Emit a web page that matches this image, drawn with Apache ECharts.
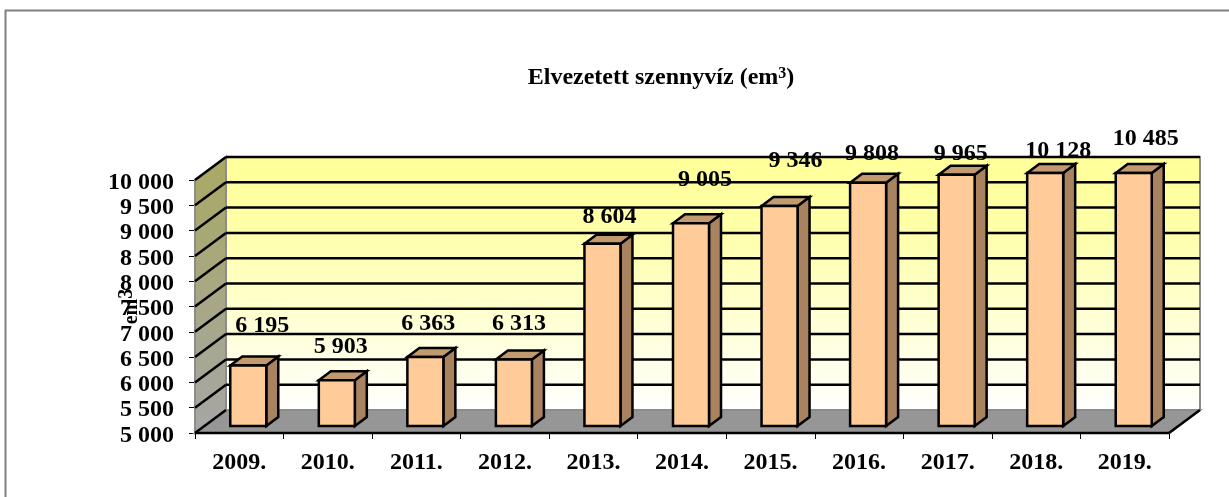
<!DOCTYPE html>
<html>
<head>
<meta charset="utf-8">
<style>
  html, body { margin: 0; padding: 0; background: #fff; }
  #chart { width: 1229px; height: 497px; }
</style>
</head>
<body>
<div id="chart"></div>
<script src="https://cdn.jsdelivr.net/npm/echarts@6/dist/echarts.min.js"></script>
<script>
const years = ["2009.", "2010.", "2011.", "2012.", "2013.", "2014.", "2015.", "2016.", "2017.", "2018.", "2019."];
const wastewater = [6195, 5903, 6363, 6313, 8604, 9005, 9346, 9808, 9965, 10128, 10485];
const yTicks = [5000, 5500, 6000, 6500, 7000, 7500, 8000, 8500, 9000, 9500, 10000];

const yMin = 5000;
const yMax = 10000;
const FONT = '"Liberation Serif", "Times New Roman", serif';

// fake 3D: how far the back wall and the bars are pushed from the front plane
const WALL_DX = 31, WALL_DY = -23;
const BAR_DX = 9, BAR_DY = -7, BAR_W = 36;
const BAR_DEPTH_X = 12, BAR_DEPTH_Y = -9;
// the data labels were moved by hand in the original: [right, up] from the bar front top
const labelNudge = [[14, 40], [4, 34], [3, 33], [5, 36], [7, 27], [14, 44], [16, 45], [4, 29], [4, 21], [13, 22], [12, 34]];

const fmt = (v) => String(v).replace(/\B(?=(\d{3})+$)/g, " ");
const chart = echarts.init(document.getElementById("chart"));

const poly = (points, fill) => ({
  type: "polygon",
  shape: { points },
  style: { fill, stroke: "#000", lineWidth: 2.5, lineJoin: "miter" },
});

const line = (x1, y1, x2, y2, stroke) => ({
  type: "line",
  shape: { x1, y1, x2, y2 },
  style: { stroke: stroke || "#000", lineWidth: 2.5 },
});

const renderWalls = (params, api) => {
  const left = params.coordSys.x;
  const right = left + params.coordSys.width;
  const bottom = api.coord([0, yMin])[1];
  const top = api.coord([0, yMax])[1];
  const children = [];

  children.push({
    type: "polygon",
    shape: { points: [[left + WALL_DX, top + WALL_DY], [right + WALL_DX, top + WALL_DY], [right + WALL_DX, bottom + WALL_DY], [left + WALL_DX, bottom + WALL_DY]] },
    style: {
      fill: new echarts.graphic.LinearGradient(0, 0, 0, 1, [
        { offset: 0, color: "#ffff99" },
        { offset: 0.25, color: "#ffffa6" },
        { offset: 1, color: "#ffffff" },
      ]),
      stroke: "#8c8c8c",
      lineWidth: 2,
    },
  });
  children.push({
    type: "polygon",
    shape: { points: [[left, top], [left + WALL_DX, top + WALL_DY], [left + WALL_DX, bottom + WALL_DY], [left, bottom]] },
    style: {
      fill: new echarts.graphic.LinearGradient(0, 0, 0, 1, [
        { offset: 0, color: "#a9a963" },
        { offset: 1, color: "#a6a6a6" },
      ]),
      stroke: "#8c8c8c",
      lineWidth: 2,
    },
  });
  children.push({
    type: "polygon",
    shape: { points: [[left, bottom], [left + WALL_DX, bottom + WALL_DY], [right + WALL_DX, bottom + WALL_DY], [right, bottom]] },
    style: { fill: "#969696", stroke: "#8c8c8c", lineWidth: 2 },
  });

  yTicks.forEach((t) => {
    const y = api.coord([0, t])[1];
    if (t > yMin) {
      children.push(line(left + WALL_DX, y + WALL_DY, right + WALL_DX, y + WALL_DY));
      children.push(line(left, y, left + WALL_DX, y + WALL_DY));
    }
  });
  children.push(line(left, bottom, left + WALL_DX, bottom + WALL_DY));
  children.push(line(right, bottom, right + WALL_DX, bottom + WALL_DY));
  children.push(line(left, bottom, right, bottom));
  return { type: "group", children };
};

const renderBar = (params, api) => {
  const i = api.value(0);
  const val = api.value(1);
  const base = api.coord([i, yMin]);
  const head = api.coord([i, Math.min(val, yMax)]);
  const x0 = base[0] + BAR_DX - BAR_W / 2;
  const x1 = x0 + BAR_W;
  const yb = base[1] + BAR_DY;
  const yt = head[1] + BAR_DY;
  const dx = BAR_DEPTH_X, dy = BAR_DEPTH_Y;
  const nudge = labelNudge[params.dataIndex];

  return {
    type: "group",
    children: [
      poly([[x1, yt], [x1 + dx, yt + dy], [x1 + dx, yb + dy], [x1, yb]], "#a98360"),
      poly([[x0, yt], [x0 + dx, yt + dy], [x1 + dx, yt + dy], [x1, yt]], "#c19a6f"),
      poly([[x0, yt], [x1, yt], [x1, yb], [x0, yb]], "#ffcc99"),
      {
        type: "text",
        z2: 10,
        style: {
          text: fmt(val),
          x: (x0 + x1) / 2 + nudge[0],
          y: yt - nudge[1],
          fill: "#000",
          font: 'bold 24px ' + FONT,
          align: "center",
          verticalAlign: "middle",
        },
      },
    ],
  };
};

const option = {
  animation: false,
  backgroundColor: "#fff",
  title: {
    text: "{b|Elvezetett szennyvíz (em}{s|3}{b|)}",
    left: 656,
    top: 61,
    textAlign: "center",
    textStyle: {
      rich: {
        b: { fontFamily: FONT, fontWeight: "bold", fontSize: 24, color: "#000" },
        s: { fontFamily: FONT, fontWeight: "bold", fontSize: 16, color: "#000", verticalAlign: "top", padding: [0, 0, 6, 0] },
      },
    },
  },
  graphic: [
    {
      type: "polyline",
      shape: { points: [[5.5, 497], [5.5, 10.5], [1229, 10.5]] },
      style: { stroke: "#808080", lineWidth: 2, fill: null },
      silent: true,
    },
  ],
  grid: { left: 195, right: 60, top: 180, bottom: 64 },
  xAxis: {
    type: "category",
    data: years,
    axisLine: { lineStyle: { color: "#000", width: 2 } },
    axisTick: { show: true, length: 6, alignWithLabel: false, lineStyle: { color: "#000", width: 1 } },
    axisLabel: { color: "#000", fontFamily: FONT, fontWeight: "bold", fontSize: 24, margin: 18, interval: 0 },
    splitLine: { show: false },
  },
  yAxis: {
    type: "value",
    min: yMin,
    max: yMax,
    interval: 500,
    name: "em{s|3}",
    nameLocation: "middle",
    nameGap: 48,
    nameMoveOverlap: false,
    nameTextStyle: {
      color: "#000",
      fontFamily: FONT,
      fontWeight: "bold",
      fontSize: 20,
      rich: {
        s: { fontFamily: FONT, fontWeight: "bold", fontSize: 20, color: "#000", verticalAlign: "top", padding: [0, 0, 10, 0] },
      },
    },
    axisLine: { show: true, lineStyle: { color: "#000", width: 2 } },
    axisTick: { show: true, length: 6, lineStyle: { color: "#000", width: 1 } },
    axisLabel: {
      color: "#000",
      fontFamily: FONT,
      fontWeight: "bold",
      fontSize: 24,
      margin: 21,
      verticalAlign: "top",
      lineHeight: 5,
      formatter: (v) => fmt(v),
    },
    splitLine: { show: false },
  },
  series: [
    {
      type: "custom",
      name: "falak",
      silent: true,
      clip: false,
      z: 1,
      renderItem: renderWalls,
      data: [[0, yMin]],
      encode: { x: 0, y: 1 },
    },
    {
      type: "custom",
      name: "Elvezetett szennyvíz",
      clip: false,
      z: 3,
      renderItem: renderBar,
      data: wastewater.map((v, i) => [i, v]),
      encode: { x: 0, y: 1 },
    },
  ],
};

chart.setOption(option);
</script>
</body>
</html>
